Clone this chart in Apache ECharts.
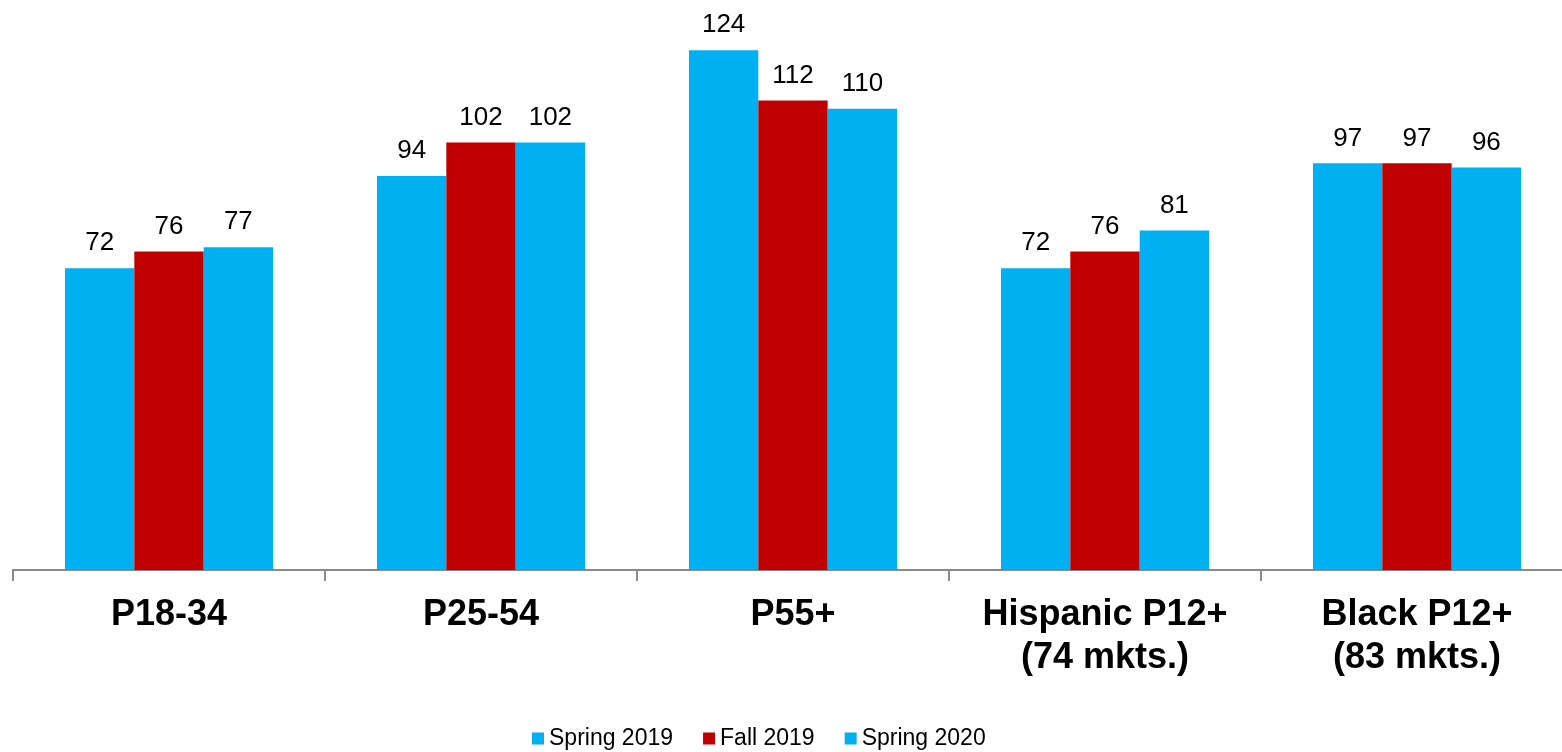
<!DOCTYPE html>
<html>
<head>
<meta charset="utf-8">
<title>Audience index by demo</title>
<script src="https://cdn.jsdelivr.net/npm/echarts@6/dist/echarts.min.js"></script>
<style>
  html, body { margin: 0; padding: 0; background: #ffffff; }
  #chart { width: 1562px; height: 752px; }
</style>
</head>
<body>
<div id="chart"></div>
<script>
// Demographic groups along the x axis
const categories = ['P18-34', 'P25-54', 'P55+', 'Hispanic P12+\n(74 mkts.)', 'Black P12+\n(83 mkts.)'];

// Index values per survey period
const spring2019 = [72, 94, 124, 72, 97];
const fall2019 = [76, 102, 112, 76, 97];
const spring2020 = [77, 102, 110, 81, 96];

const seriesNames = ['Spring 2019', 'Fall 2019', 'Spring 2020'];
const seriesColors = ['#00B0F0', '#C00000', '#00B0F0'];

const FONT = '"Liberation Sans", Arial, sans-serif';

const chart = echarts.init(document.getElementById('chart'), null, { renderer: 'canvas' });

function barSeries(name, data, color) {
  return {
    name: name,
    type: 'bar',
    data: data,
    barGap: '0%',
    barCategoryGap: '33.3%',
    itemStyle: { color: color },
    label: {
      show: true,
      position: 'top',
      distance: 12,
      color: '#000000',
      fontFamily: FONT,
      fontSize: 26
    }
  };
}

chart.setOption({
  animation: false,
  backgroundColor: '#ffffff',
  textStyle: { fontFamily: FONT },
  // the last category runs a little past the right edge of the canvas
  grid: { left: 13, width: 1560, top: 25, bottom: 182, containLabel: false, outerBoundsMode: 'none' },
  legend: {
    data: seriesNames,
    top: 722,
    left: 527,
    icon: 'rect',
    itemWidth: 12,
    itemHeight: 12,
    itemGap: 30,
    textStyle: { fontFamily: FONT, fontSize: 23, color: '#000000' }
  },
  xAxis: {
    type: 'category',
    data: categories,
    axisLine: { lineStyle: { color: '#898989', width: 2 } },
    axisTick: { show: true, length: 11, lineStyle: { color: '#898989', width: 2 } },
    axisLabel: {
      margin: 24,
      color: '#000000',
      fontFamily: FONT,
      fontSize: 36,
      fontWeight: 'bold',
      lineHeight: 43,
      interval: 0
    }
  },
  yAxis: {
    type: 'value',
    min: 0,
    max: 130,
    show: false,
    splitLine: { show: false }
  },
  series: [
    barSeries(seriesNames[0], spring2019, seriesColors[0]),
    barSeries(seriesNames[1], fall2019, seriesColors[1]),
    barSeries(seriesNames[2], spring2020, seriesColors[2])
  ]
});
</script>
</body>
</html>
